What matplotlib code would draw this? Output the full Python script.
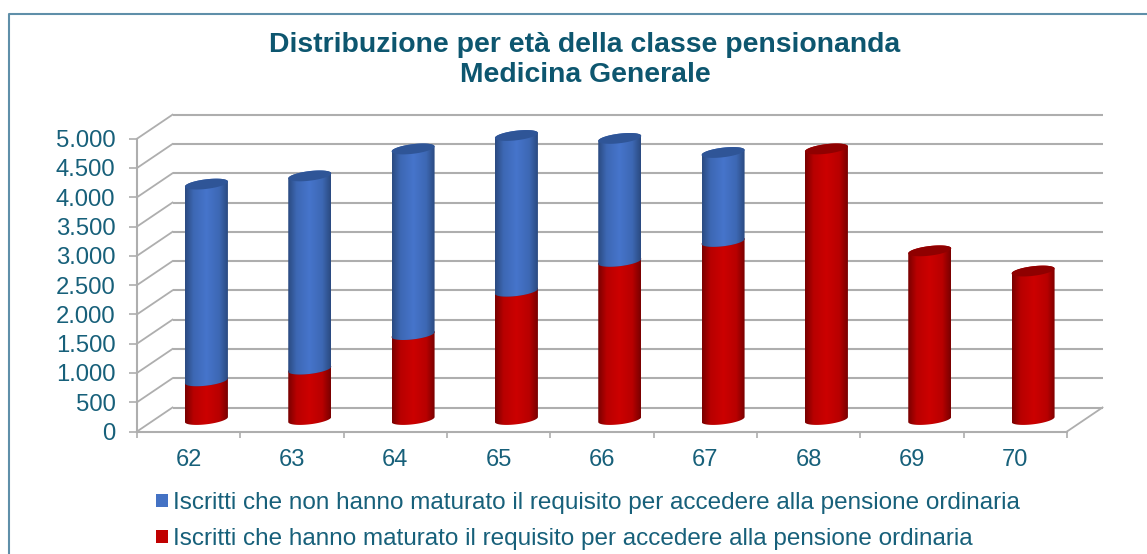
import numpy as np
import matplotlib
matplotlib.use("Agg")
import matplotlib.pyplot as plt
from matplotlib.colors import LinearSegmentedColormap
from matplotlib.lines import Line2D
from matplotlib.patches import Patch
from matplotlib.path import Path

plt.rcParams['font.family'] = ['Liberation Sans', 'DejaVu Sans']

ages = [62, 63, 64, 65, 66, 67, 68, 69, 70]
maturato = [660, 860, 1450, 2190, 2700, 3040, 4620, 2880, 2535]
non_maturato = [3360, 3300, 3170, 2660, 2100, 1520, 0, 0, 0]
y_ticks = [0, 500, 1000, 1500, 2000, 2500, 3000, 3500, 4000, 4500, 5000]
y_labels = ['0', '500', '1.000', '1.500', '2.000', '2.500', '3.000', '3.500', '4.000', '4.500', '5.000']
title_text = "Distribuzione per età della classe pensionanda\nMedicina Generale"
legend_blue = "Iscritti che non hanno maturato il requisito per accedere alla pensione ordinaria"
legend_red = "Iscritti che hanno maturato il requisito per accedere alla pensione ordinaria"

W, H = 1147, 554
TEXT = '#17607a'
TITLE = '#0d566f'
GRID = '#aeaeae'

fig = plt.figure(figsize=(W / 100, H / 100), dpi=100, facecolor='white')
L, R, T, B = 137, 1067, 138.7, 431.5
ax = fig.add_axes([L / W, (H - B) / H, (R - L) / W, (B - T) / H])
ax.set_facecolor('none')
n = len(ages)
xlim = (-0.5, n - 0.5)
ylim = (0, 5000)
px_x = (R - L) / n
px_y = (B - T) / 5000
DX = 35.5 / px_x      # depth of the oblique projection, in data units
DY = 24 / px_y

# back wall and left wall grid, floor
for v in y_ticks:
    ax.plot([xlim[0] + DX, xlim[1] + DX], [v + DY, v + DY], color=GRID, lw=1.5,
            clip_on=False, zorder=1, solid_capstyle='butt')
    ax.plot([xlim[0], xlim[0] + DX], [v, v + DY], color=GRID, lw=1.3, clip_on=False, zorder=1)
ax.plot([xlim[1], xlim[1] + DX], [0, DY], color=GRID, lw=1.3, clip_on=False, zorder=1)

blue_cmap = LinearSegmentedColormap.from_list('b', [(0, '#2a4a80'), (0.2, '#3d68b4'), (0.5, '#4675cb'),
                                                    (0.8, '#3d68b4'), (1, '#2a4a80')])
red_cmap = LinearSegmentedColormap.from_list('r', [(0, '#780000'), (0.2, '#b80000'), (0.5, '#cc0000'),
                                                   (0.8, '#b80000'), (1, '#780000')])
grad = np.linspace(0, 1, 256).reshape(1, -1)
A = 21.5 / px_x
Bb = 4.8 / px_y
TILT = 2.5 / px_y
lift = DY / 2
shift = DX / 2


def ell(cx, v, t):
    return cx + A * np.cos(t), v + lift + Bb * np.sin(t) + TILT * np.cos(t)


def cylinder(cx, v0, v1, cmap, cap, z):
    t1 = np.linspace(np.pi, 2 * np.pi, 40)
    t2 = np.linspace(0, np.pi, 40)
    x1, y1 = ell(cx, v0, t1)
    x2, y2 = ell(cx, v1, t2)
    verts = np.column_stack([np.r_[x1, x2], np.r_[y1, y2]])
    path = Path(np.vstack([verts, verts[0]]), closed=True)
    im = ax.imshow(grad, extent=[cx - A, cx + A, v0 + lift - 300, v1 + lift + 300], aspect='auto',
                   cmap=cmap, zorder=z, interpolation='bilinear')
    im.set_clip_box(fig.bbox)
    im.set_clip_path(path, transform=ax.transData)
    t = np.linspace(0, 2 * np.pi, 80)
    xc, yc = ell(cx, v1, t)
    ax.fill(xc, yc, color=cap, lw=0, zorder=z + 0.1, clip_on=False)


for i, (r, b) in enumerate(zip(maturato, non_maturato)):
    cx = i + shift
    cylinder(cx, 0, r, red_cmap, '#8f0000', 3 + i)
    if b > 0:
        cylinder(cx, r, r + b, blue_cmap, '#2f5597', 3.3 + i)

ax.set_xlim(*xlim)
ax.set_ylim(*ylim)
for s in ('top', 'right'):
    ax.spines[s].set_visible(False)
for s in ('left', 'bottom'):
    ax.spines[s].set_color(GRID)
    ax.spines[s].set_linewidth(1.5)
    ax.spines[s].set_zorder(2)

ax.set_yticks(y_ticks, y_labels)
ax.tick_params(axis='y', length=5.5, width=1.2, color=GRID, labelcolor=TEXT, labelsize=17.2, pad=10)
ax.set_xticks(np.arange(n + 1) - 0.5, [''] * (n + 1))
ax.tick_params(axis='x', which='major', length=4.5, width=1.2, color=GRID)
ax.set_xticks(np.arange(n), [str(a) for a in ages], minor=True)
ax.tick_params(axis='x', which='minor', length=0, labelcolor=TEXT, labelsize=17, pad=12.5)

fig.text(585 / W, 1 - 60.5 / H, title_text, ha='center', va='center', fontsize=20.4, fontweight='bold',
         color=TITLE, linespacing=1.2)

handles = [Patch(facecolor='#4472c4', label=legend_blue), Patch(facecolor='#c00000', label=legend_red)]
fig.legend(handles=handles, loc='upper left', bbox_to_anchor=(155.5 / W, 1 - 492 / H), frameon=False,
           fontsize=17.5, labelcolor=TEXT, handlelength=0.5, handleheight=0.46, handletextpad=0.2,
           labelspacing=0.58, borderpad=0, borderaxespad=0)

fig.add_artist(Line2D([8.5 / W, 8.5 / W, 1], [0, 1 - 14 / H, 1 - 14 / H], color='#5f8fa9', lw=1.5))

fig.savefig('out.png', dpi=100)
